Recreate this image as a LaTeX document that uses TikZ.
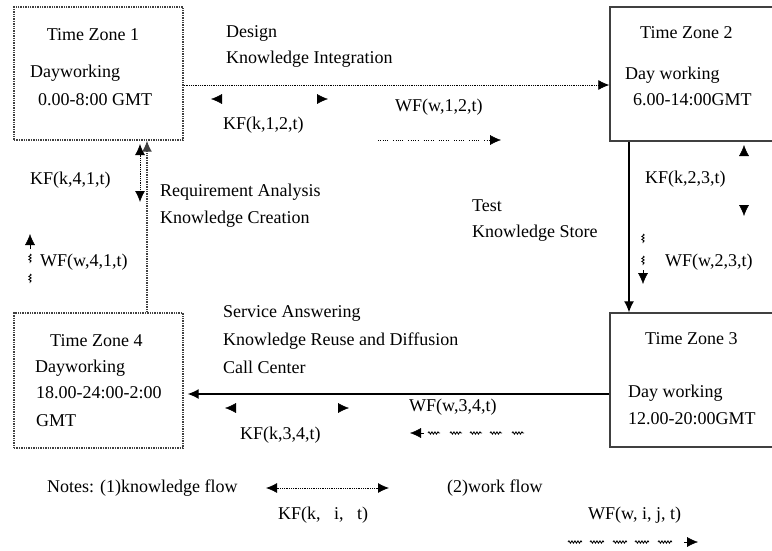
\documentclass[tikz,border=0pt]{standalone}
\usepackage{fontspec}
\setmainfont{Liberation Serif}
\usetikzlibrary{arrows.meta,decorations.pathmorphing,calc}
\begin{document}
\begin{tikzpicture}[x=1pt,y=-1pt,
  lbl/.style={font=\fontsize{18}{21}\selectfont, inner sep=0pt, anchor=west},
  ctr/.style={font=\fontsize{18}{21}\selectfont, inner sep=0pt, anchor=center},
  zonea/.style={draw=black!75, line width=1.4pt, densely dotted, inner sep=0pt},
  zoneb/.style={draw=black!75, line width=1.4pt, inner sep=0pt},
  tip/.style={-{Latex[length=11pt,width=10pt]}},
  ghost/.style={draw=white, {Latex[length=11pt,width=10pt,color=black]}-{Latex[length=11pt,width=10pt,color=black]}},
  kfline/.style={densely dotted, line width=0.8pt},
  wfdots/.style={line width=0.8pt, dash pattern=on 1pt off 1.3pt on 1pt off 1.3pt on 1pt off 1.3pt on 1pt off 1.3pt on 1pt off 5pt},
  wavy/.style={line width=0.8pt, decorate, decoration={snake, amplitude=1.2pt, segment length=3pt}},
]
\useasboundingbox (0,0) rectangle (772,550);
\fill[white] (0,0) rectangle (772,550);

% zone boxes
\node[zonea, minimum width=169pt, minimum height=133pt] (z1) at (98.5,73.5) {};
\node[zoneb, minimum width=175pt, minimum height=134pt] (z2) at (697.5,74) {};
\node[zoneb, minimum width=175pt, minimum height=134pt] (z3) at (697.5,380) {};
\node[zonea, minimum width=169pt, minimum height=135pt] (z4) at (98.5,380.5) {};

% box texts
\node[ctr] (t1) at (93,35) {Time Zone 1};
\node[lbl] (d1) at (30,73) {Dayworking};
\node[lbl] (h1) at (38,100) {0.00-8:00 GMT};

\node[lbl] (t2) at (640,33) {Time Zone 2};
\node[lbl] (d2) at (625,75) {Day working};
\node[lbl] (h2) at (633,100) {6.00-14:00GMT};

\node[lbl] (t3) at (645,339) {Time Zone 3};
\node[lbl] (d3) at (628,393) {Day working};
\node[lbl] (h3) at (628,419) {12.00-20:00GMT};

\node[lbl] (t4) at (50,341) {Time Zone 4};
\node[lbl] (d4) at (35,368) {Dayworking};
\node[lbl] (h4) at (36,393) {18.00-24:00-2:00};
\node[lbl] (g4) at (36,421) {GMT};

% phase texts
\node[lbl] (p1a) at (226,33) {Design};
\node[lbl] (p1b) at (226,59) {Knowledge Integration};
\node[lbl] (p2a) at (160,192) {Requirement Analysis};
\node[lbl] (p2b) at (160,219) {Knowledge Creation};
\node[lbl] (p3a) at (472,206) {Test};
\node[lbl] (p3b) at (472,233) {Knowledge Store};
\node[lbl] (p4a) at (223,313) {Service Answering};
\node[lbl] (p4b) at (223,341) {Knowledge Reuse and Diffusion};
\node[lbl] (p4c) at (223,367) {Call Center};

% flow labels
\node[lbl] (kf12) at (223,125) {KF(k,1,2,t)};
\node[lbl] (wf12) at (395,107) {WF(w,1,2,t)};
\node[lbl] (kf23) at (645,179) {KF(k,2,3,t)};
\node[lbl] (wf23) at (665,262) {WF(w,2,3,t)};
\node[lbl] (kf34) at (240,435) {KF(k,3,4,t)};
\node[lbl] (wf34) at (409,407) {WF(w,3,4,t)};
\node[lbl] (kf41) at (30,180) {KF(k,4,1,t)};
\node[lbl] (wf41) at (40,262) {WF(w,4,1,t)};

% main connectors
\draw[kfline, tip] ([yshift=-11.5pt]z1.east) -- ([yshift=-11pt]z2.west);
\draw[line width=1.3pt, tip] ([xshift=-68.5pt]z2.south) -- ([xshift=-68.5pt]z3.north);
\draw[line width=1.3pt, tip, shorten >=4pt] ([yshift=-14pt]z3.west) -- ([yshift=-13.5pt]z4.east);
\draw[line width=1.4pt, densely dotted, black!75, tip] ([xshift=48.5pt]z4.north) -- ([xshift=48.5pt]z1.south);

% knowledge flows (heads only)
\coordinate (k12a) at (211,99); \coordinate (k12b) at (328,99);
\draw[ghost] (k12a) -- (k12b);
\coordinate (k23a) at (744,145); \coordinate (k23b) at (744,216);
\draw[ghost] (k23a) -- (k23b);
\coordinate (k34a) at (225,408); \coordinate (k34b) at (349,408);
\draw[ghost] (k34a) -- (k34b);
\coordinate (k41a) at (140,144); \coordinate (k41b) at (140,202);
\draw[kfline, {Latex[length=11pt,width=10pt]}-{Latex[length=11pt,width=10pt]}] (k41a) -- (k41b);

% work flows
\coordinate (w12a) at (378,140); \coordinate (w12b) at (490,140); \coordinate (w12t) at (501,140);
\draw[wfdots] (w12a) -- (w12b);
\draw[tip] (w12b) -- (w12t);

\coordinate (w23b) at (643,270); \coordinate (w23t) at (643,284);
\foreach \s in {-36,-14} \draw[wavy] ($(w23b)+(0,\s)$) -- ++(0,9);
\draw[tip] (w23b) -- (w23t);

\coordinate (w41b) at (30,249); \coordinate (w41t) at (30,234);
\foreach \s in {5,25} \draw[wavy] ($(w41b)+(0,\s)$) -- ++(0,9);
\draw[tip] (w41b) -- (w41t);

\coordinate (w34b) at (424,433); \coordinate (w34t) at (410,433);
\foreach \s in {4,26,46,66,88} \draw[wavy] ($(w34b)+(\s,0)$) -- ++(12,0);
\draw[tip] (w34b) -- (w34t);

% notes
\node[lbl] (n1) at (47,488) {Notes: (1)knowledge flow};
\coordinate (lk1) at (266,488); \coordinate (lk2) at (389,488);
\draw[kfline, {Latex[length=11pt,width=10pt]}-{Latex[length=11pt,width=10pt]}] (lk1) -- (lk2);
\node[lbl] (n1k) at (278,515) {KF(k,\ \ \ i,\ \ \ t)};
\node[lbl] (n2) at (447,488) {(2)work flow};
\node[lbl] (n2w) at (588,515) {WF(w, i, j, t)};
\coordinate (lw1) at (568,542); \coordinate (lw2) at (684,542); \coordinate (lw3) at (698,542);
\foreach \s in {0,22,45,67,90} \draw[wavy] ($(lw1)+(\s,0)$) -- ++(14,0);
\draw[tip] (lw2) -- (lw3);
\end{tikzpicture}
\end{document}
